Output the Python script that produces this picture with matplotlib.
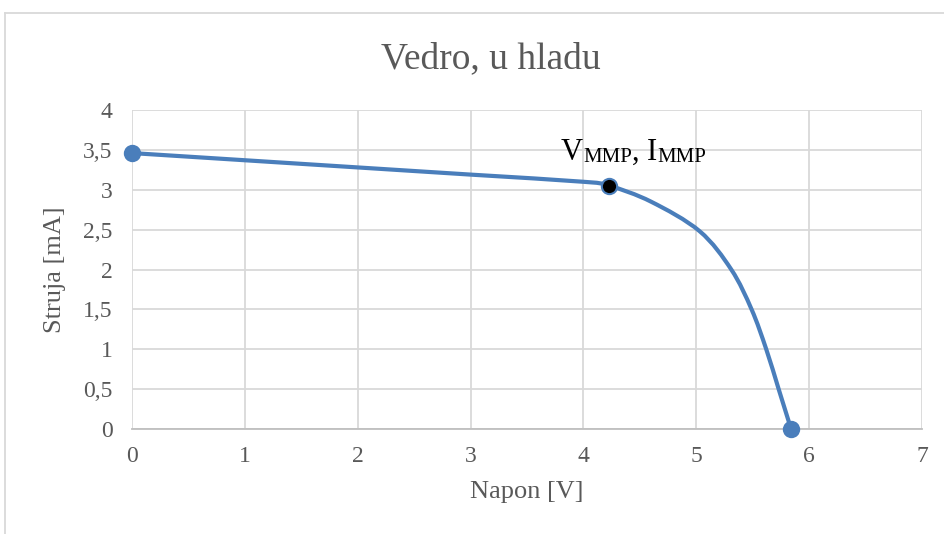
import matplotlib.pyplot as plt
from matplotlib.path import Path
from matplotlib.patches import PathPatch
from matplotlib.lines import Line2D
from matplotlib.ticker import FuncFormatter
from matplotlib.transforms import offset_copy

napon = [0, 1, 2, 3, 4, 4.23, 4.6, 5.03, 5.31, 5.49, 5.62, 5.73, 5.84]
struja = [3.46, 3.37, 3.28, 3.19, 3.10, 3.05, 2.85, 2.48, 2.0, 1.5, 1.0, 0.5, 0.0]
marked = [0, 5, 12]          # indices shown with markers
mpp_index = 5

plt.rcParams['font.family'] = ['Liberation Serif', 'DejaVu Serif']

TXT = '#595959'
BLUE = '#4a7ebb'
GRID = '#d9d9d9'

fig = plt.figure(figsize=(9.44, 5.34), dpi=100)
ax = fig.add_axes([0.1398, 0.1966, 0.8369, 0.5974])

# smooth line like excel (catmull-rom -> bezier)
verts = [(napon[0], struja[0])]
codes = [Path.MOVETO]
n = len(napon)
for i in range(n - 1):
    p0 = (napon[max(i - 1, 0)], struja[max(i - 1, 0)])
    p1 = (napon[i], struja[i])
    p2 = (napon[i + 1], struja[i + 1])
    p3 = (napon[min(i + 2, n - 1)], struja[min(i + 2, n - 1)])
    c1 = (p1[0] + (p2[0] - p0[0]) / 6, p1[1] + (p2[1] - p0[1]) / 6)
    c2 = (p2[0] - (p3[0] - p1[0]) / 6, p2[1] - (p3[1] - p1[1]) / 6)
    verts += [c1, c2, p2]
    codes += [Path.CURVE4] * 3
ax.add_patch(PathPatch(Path(verts, codes), facecolor='none', edgecolor=BLUE,
                       lw=3, capstyle='round', zorder=3))

for i in marked:
    fc = 'black' if i == mpp_index else BLUE
    ax.plot(napon[i], struja[i], 'o', ms=11, mfc=fc, mec=BLUE, mew=1.5,
            zorder=4, clip_on=False)

ax.set_xlim(0, 7)
ax.set_ylim(0, 4)
ax.set_xticks(range(0, 8))
ax.set_yticks([i * 0.5 for i in range(9)])
fmt = FuncFormatter(lambda v, p: ('%g' % v).replace('.', ','))
ax.xaxis.set_major_formatter(fmt)
ax.yaxis.set_major_formatter(fmt)
ax.grid(True, color=GRID, lw=1.3)
ax.set_axisbelow(True)
for s in ['top', 'right', 'left']:
    ax.spines[s].set_visible(False)
ax.spines['bottom'].set_color('#bfbfbf')
ax.spines['bottom'].set_linewidth(1.3)
ax.tick_params(length=0, labelsize=17, colors=TXT, pad=12)
ax.tick_params(axis='y', pad=14)

ax.set_xlabel('Napon [V]', fontsize=19, color=TXT, labelpad=10)
ax.set_ylabel('Struja [mA]', fontsize=19, color=TXT, labelpad=12)
fig.text(0.5205, 0.89, 'Vedro, u hladu', fontsize=27, color=TXT,
         ha='center', va='center')

# "V_MMP, I_MMP" label, pieces placed one after the other
pieces = [('V', 22, 0), ('MMP', 15, -2), (', ', 22, 0), ('I', 22, 0), ('MMP', 15, -2)]
lx, ly = napon[mpp_index] - 0.43, struja[mpp_index] + 0.32
fig.canvas.draw()
renderer = fig.canvas.get_renderer()
dx = 0
for s, size, dy in pieces:
    t = ax.text(lx, ly, s, fontsize=size, color='black', va='baseline',
                transform=offset_copy(ax.transData, fig, x=dx, y=dy, units='dots'))
    dx += t.get_window_extent(renderer).width

# chart frame (cut off at right and bottom)
fig.add_artist(Line2D([5 / 944, 5 / 944], [0, 1 - 13 / 534], color='#d9d9d9', lw=1.3))
fig.add_artist(Line2D([5 / 944, 1], [1 - 13 / 534, 1 - 13 / 534], color='#d9d9d9', lw=1.3))

fig.savefig('out.png', dpi=100)
